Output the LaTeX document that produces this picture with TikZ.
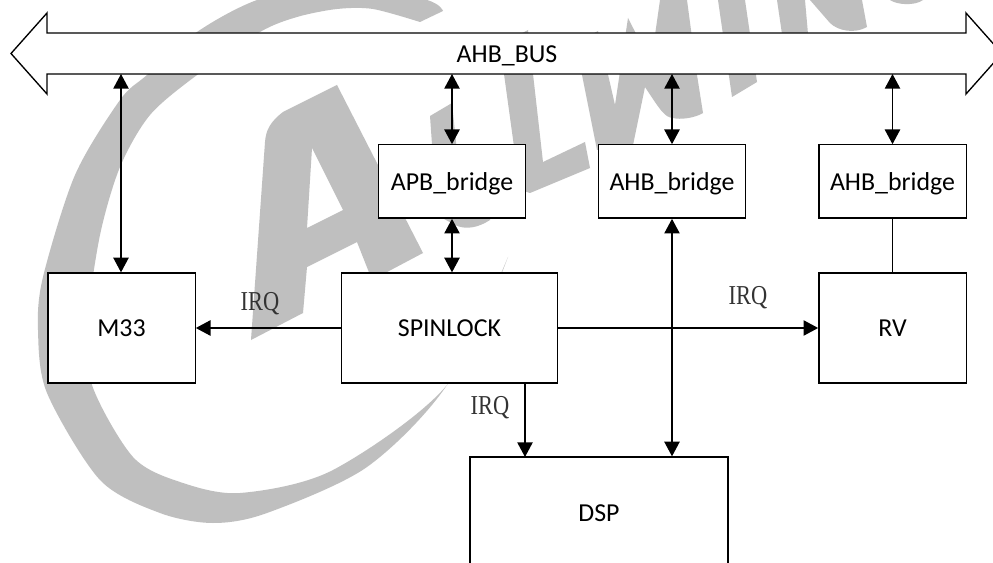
\documentclass[tikz,border=0pt]{standalone}
\usepackage{fontspec}
\setmainfont{Carlito}
\newfontfamily\irqfont[FakeStretch=0.82]{Liberation Serif}
\usetikzlibrary{arrows.meta}
\definecolor{wm}{HTML}{BFBFBF}
\tikzset{
  x=0.75pt,y=-0.75pt,
  wmark/.style={fill=wm,draw=none},
  boxnode/.style={draw=black,fill=white,line width=1pt,inner sep=0pt,font=\fontsize{19.4}{22}\selectfont,text height=15.5pt,text depth=2.5pt,align=center},
  smallbox/.style={boxnode,minimum width=110.5pt,minimum height=55pt},
  bigbox/.style={boxnode,minimum width=110.5pt,minimum height=82.5pt},
  irq/.style={inner sep=0pt,text=black!80,font=\irqfont\fontsize{20.5}{22}\selectfont},
  link/.style={line width=1pt,draw=black},
  both/.style={link,{Triangle[length=11pt,width=11.5pt]}-{Triangle[length=11pt,width=11.5pt]}},
  single/.style={link,-{Triangle[length=11pt,width=11.5pt]}}
}
\begin{document}
\begin{tikzpicture}
\useasboundingbox (0,0) rectangle (993,563);
\clip (0,0) rectangle (993,563);
\fill[white] (0,0) rectangle (993,563);
% watermark
\fill[wmark] plot[smooth] coordinates {(443,11)(427,0)(340,-20)(257,0)(197,32)(147,75)(120,100)(75,175)(43,277)(38,330)(47,393)(100,480)(160,513)(213,523)(267,513)(367,467)(447,385)(508,257)}
  -- plot[smooth] coordinates {(508,257)(447,385)(333,470)(240,493)(180,482)(133,457)(92,385)(88,320)(100,235)(120,167)(150,115)(197,75)(260,32)(297,17)(337,9)(373,9)(420,22)} -- cycle;
% A
\fill[wmark,even odd rule] (337,85) -- (283,112) .. controls (270,122) and (266,130) .. (265,142) -- (251,340) -- (303,313) -- (307,267) -- (357,242) -- (372,280) -- (423,253) -- cycle
  (312,148) -- (307,228) -- (343,210) -- cycle;
% l
\fill[wmark] (430,116) -- (452,103) -- (462,200) .. controls (463,212) and (475,214) .. (490,208) -- (490,220) .. controls (478,228) and (465,230) .. (455,225) -- (437,215) -- cycle;
% L
\fill[wmark] (500,45) -- (528,30) -- (543,162) -- (585,142) -- (590,168) -- (530,193) -- (520,190) -- cycle;
% W
\fill[wmark] (572,45) -- (598,31) -- (615,105) -- (628,18) -- (651,63) -- (660,0) -- (687,0) -- (697,75) -- (703,113) .. controls (695,118) and (680,120) .. (673,118) .. controls (665,117) and (662,113) .. (645,87) -- (632,150) -- (597,150) -- (582,75) -- cycle;
% I
\fill[wmark] (718,0) -- (745,0) -- (757,82) -- (732,97) -- cycle;
% N
\fill[wmark] (777,0) -- (805,0) -- (808,34) -- (782,34) -- cycle;
\fill[wmark] (810,0) -- (830,23) .. controls (838,31) and (855,34) .. (867,27) -- (862,0) -- cycle;
\fill[wmark] (890,0) .. controls (897,5) and (915,6) .. (923,0) -- cycle;
% bus
\draw[line width=1pt,fill=white,line join=miter] (11,53.5) -- (47,13) -- (47,33) -- (966,33) -- (966,13) -- (1002,53.5) -- (966,94) -- (966,74) -- (47,74) -- (47,94) -- cycle;
\node[inner sep=0pt,font=\fontsize{19.4}{22}\selectfont,text height=15.5pt,text depth=2.5pt] (bus) at (507,54) {AHB\_BUS};
\coordinate (busa) at (121,74);
\coordinate (busb) at (452,74);
\coordinate (busc) at (672,74);
\coordinate (busd) at (892.5,74);
% boxes
\node[smallbox] (apb) at (452,181.5) {APB\_bridge};
\node[smallbox] (ahba) at (672,181.5) {AHB\_bridge};
\node[smallbox] (ahbb) at (892.5,181.5) {AHB\_bridge};
\node[bigbox] (m33) at (121.5,328) {M33};
\node[bigbox,minimum width=162pt] (spin) at (449.5,328) {SPINLOCK};
\node[bigbox] (rv) at (892.5,328) {RV};
\node[boxnode,minimum width=193.5pt,minimum height=84pt] (dsp) at (599,513) {DSP};
\coordinate (dspa) at (525,457);
% labels
\node[irq] (irqa) at (260,304) {IRQ};
\node[irq] (irqb) at (748,298) {IRQ};
\node[irq] (irqc) at (490,408) {IRQ};
% connectors
\draw[both] (busa) -- (busa |- m33.north);
\draw[both] (busb) -- (apb.north);
\draw[both] (busc) -- (ahba.north);
\draw[both] (busd) -- (ahbb.north);
\draw[both] (apb.south) -- (apb.south |- spin.north);
\draw[both] (ahba.south) -- (ahba.south |- dsp.north);
\draw[link] (ahbb.south) -- (rv.north);
\draw[single] (spin.west) -- (m33.east);
\draw[single] (spin.east) -- (rv.west);
\draw[single] (dspa |- spin.south) -- (dspa);
\end{tikzpicture}
\end{document}
